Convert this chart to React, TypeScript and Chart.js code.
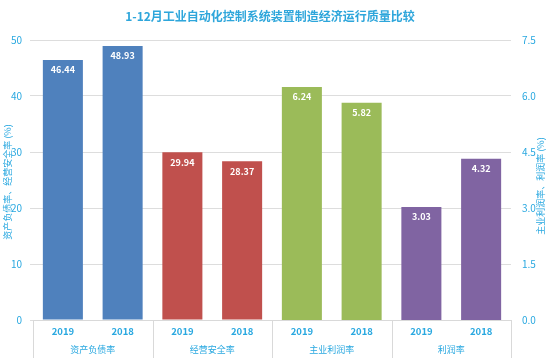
import React, { useEffect, useRef } from "react";
import { Chart, registerables } from "chart.js";

Chart.register(...registerables);

const years = ["2019", "2018", "2019", "2018", "2019", "2018", "2019", "2018"];
const groups = ["资产负债率", "经营安全率", "主业利润率", "利润率"];
const leftValues = [46.44, 48.93, 29.94, 28.37, null, null, null, null];
const rightValues = [null, null, null, null, 6.24, 5.82, 3.03, 4.32];
const barColors = ["#4F81BD", "#4F81BD", "#C0504D", "#C0504D", "#9BBB59", "#9BBB59", "#8064A2", "#8064A2"];
const title = "1-12月工业自动化控制系统装置制造经济运行质量比较";
const leftTitle = "资产负债率、经营安全率 (%)";
const rightTitle = "主业利润率、利润率 (%)";

const FONT = "'Noto Sans CJK SC', 'Noto Sans', sans-serif";
const BLUE = "#29A8E0";

const overlay = {
  id: "overlay",
  afterDatasetsDraw(chart: any) {
    const ctx = chart.ctx;
    const area = chart.chartArea;
    ctx.save();
    // data labels
    ctx.fillStyle = "#FFFFFF";
    ctx.font = `bold 9px ${FONT}`;
    ctx.textAlign = "center";
    ctx.textBaseline = "middle";
    chart.data.datasets.forEach((ds: any, di: number) => {
      const meta = chart.getDatasetMeta(di);
      meta.data.forEach((el: any, i: number) => {
        const v = ds.data[i];
        if (v === null || v === undefined) return;
        ctx.fillText(v.toFixed(2), el.x, el.y + 10);
      });
    });
    // separators and group labels
    ctx.strokeStyle = "#D9D9D9";
    ctx.lineWidth = 1;
    const n = chart.data.labels.length;
    const w = (area.right - area.left) / n;
    for (let g = 0; g <= groups.length; g++) {
      const xx = Math.round(area.left + g * 2 * w) + 0.5;
      ctx.beginPath();
      ctx.moveTo(xx, area.bottom);
      ctx.lineTo(xx, area.bottom + 38);
      ctx.stroke();
    }
    ctx.fillStyle = BLUE;
    ctx.font = `9px ${FONT}`;
    groups.forEach((g, i) => {
      const cx = area.left + (i * 2 + 1) * w;
      ctx.fillText(g, cx, area.bottom + 30);
    });
    // axis titles
    ctx.font = `9px ${FONT}`;
    ctx.save();
    ctx.translate(8, 182);
    ctx.rotate(-Math.PI / 2);
    ctx.fillText(leftTitle, 0, 0);
    ctx.restore();
    ctx.save();
    ctx.translate(541, 186);
    ctx.rotate(-Math.PI / 2);
    ctx.fillText(rightTitle, 0, 0);
    ctx.restore();
    // title
    ctx.font = `bold 12px ${FONT}`;
    ctx.fillStyle = "#2EA6DB";
    ctx.fillText(title, 270, 16);
    ctx.restore();
  },
};

export default function App() {
  const ref = useRef<HTMLCanvasElement>(null);
  useEffect(() => {
    const chart = new Chart(ref.current!, {
      type: "bar",
      data: {
        labels: years,
        datasets: [
          {
            data: leftValues as any,
            backgroundColor: barColors,
            yAxisID: "y",
            barPercentage: 0.67,
            categoryPercentage: 1,
            grouped: false,
          },
          {
            data: rightValues as any,
            backgroundColor: barColors,
            yAxisID: "y1",
            barPercentage: 0.67,
            categoryPercentage: 1,
            grouped: false,
          },
        ],
      },
      options: {
        responsive: false,
        animation: false,
        layout: { padding: { top: 40, left: 2, right: 4, bottom: 0 } },
        plugins: { legend: { display: false }, tooltip: { enabled: false }, title: { display: false } },
        scales: {
          x: {
            grid: { display: false, drawTicks: false, tickLength: 0 },
            border: { color: "#D9D9D9" },
            ticks: { color: BLUE, font: { family: FONT, size: 9.5, weight: "bold" }, padding: 6 },
            afterFit(s: any) {
              s.height = 43;
            },
          },
          y: {
            position: "left",
            min: 0,
            max: 50,
            ticks: { stepSize: 10, color: BLUE, font: { family: FONT, size: 10 }, padding: 8 },
            grid: { color: "#DDDDDD", tickLength: 3 },
            border: { display: false },
            afterFit(s: any) {
              s.width = 31;
            },
          },
          y1: {
            position: "right",
            min: 0,
            max: 7.5,
            ticks: {
              stepSize: 1.5,
              color: BLUE,
              font: { family: FONT, size: 10 },
              padding: 3,
              callback: (v: any) => Number(v).toFixed(1),
            },
            grid: { display: false },
            border: { display: false },
            afterFit(s: any) {
              s.width = 36;
            },
          },
        },
      },
      plugins: [overlay],
    });
    return () => chart.destroy();
  }, []);
  return (
    <div style={{ position: "fixed", left: 0, top: 0, width: 551, height: 363, background: "#fff" }}>
      <canvas ref={ref} width={551} height={363} />
    </div>
  );
}
